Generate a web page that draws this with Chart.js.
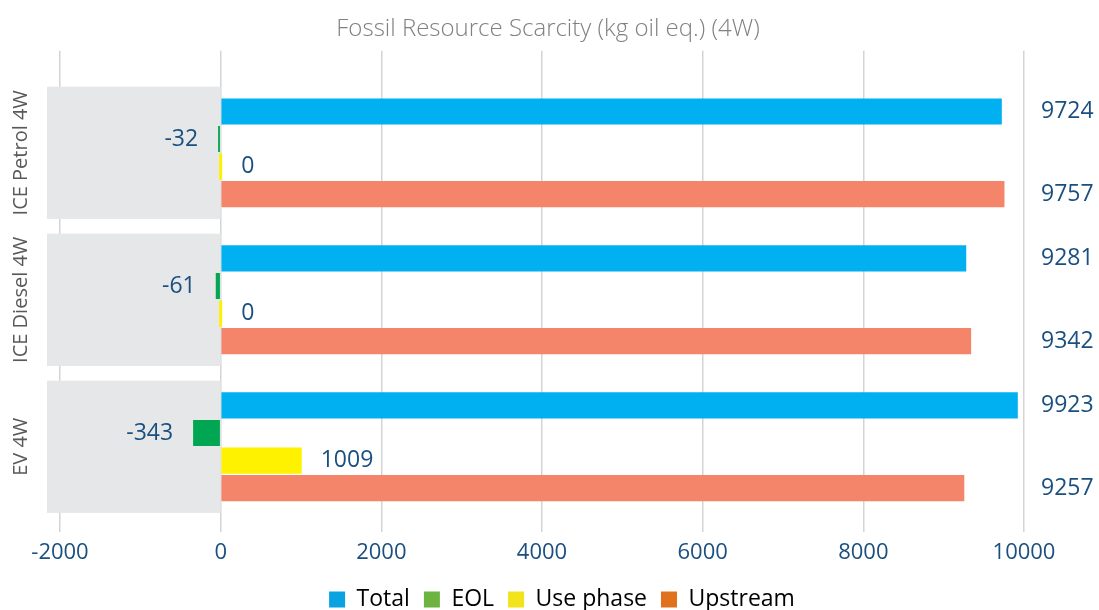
<!DOCTYPE html>
<html lang="en">
<head>
  <meta charset="UTF-8" />
  <title>Fossil Resource Scarcity (4W)</title>
  <script src="https://cdn.jsdelivr.net/npm/chart.js"></script>
  <style>
    body { margin: 0; background: #fff; }
    canvas { display: block; }
  </style>
</head>
<body>
  <canvas id="grafico" width="1099" height="610"></canvas>

  <script>
    // dados
    const categorias = ["ICE Petrol 4W", "ICE Diesel 4W", "EV 4W"];
    const total = [9724, 9281, 9923];
    const eol = [-32, -61, -343];
    const usePhase = [0, 0, 1009];
    const upstream = [9757, 9342, 9257];
    const xTicks = [-2000, 0, 2000, 4000, 6000, 8000, 10000];

    const nomes = ["Total", "EOL", "Use phase", "Upstream"];
    const coresBarra = ["#00B0F0", "#00A651", "#FFF200", "#F4846A"];
    const coresLegenda = ["#0AA3E2", "#6DB33F", "#F2E31B", "#E0721E"];
    const azul = "#1A4F7F";
    const fonte = "'Open Sans', sans-serif";

    const series = [total, eol, usePhase, upstream];

    // caixas cinza + rótulos das categorias
    const fundoCategorias = {
      id: "fundoCategorias",
      afterLayout(chart) {
        // título e legenda ficam centrados na figura, não na área do gráfico
        chart.titleBlock.left += 6; chart.titleBlock.right += 6;
        chart.legend.left += 20; chart.legend.right += 20;
      },
      beforeDatasetsDraw(chart) {
        const { ctx, scales: { x, y } } = chart;
        const passo = Math.abs(y.getPixelForValue(1) - y.getPixelForValue(0));
        ctx.save();
        ctx.fillStyle = "#E6E7E8";
        categorias.forEach((c, i) => {
          const yc = y.getPixelForValue(i);
          ctx.fillRect(47, yc - passo * 0.45, x.getPixelForValue(0) - 47, passo * 0.9);
        });
        ctx.restore();
      },
      afterDraw(chart) {
        const { ctx, scales: { y } } = chart;
        ctx.save();
        ctx.fillStyle = "#595959";
        ctx.font = "20px " + fonte;
        ctx.textAlign = "center";
        ctx.textBaseline = "middle";
        categorias.forEach((c, i) => {
          ctx.save();
          ctx.translate(21, y.getPixelForValue(i));
          ctx.rotate(-Math.PI / 2);
          ctx.fillText(c, 0, 0);
          ctx.restore();
        });
        ctx.restore();
      }
    };

    // rótulos de valor
    const rotulos = {
      id: "rotulos",
      afterDatasetsDraw(chart) {
        const { ctx, chartArea } = chart;
        ctx.save();
        ctx.fillStyle = azul;
        ctx.font = "23px " + fonte;
        ctx.textBaseline = "middle";
        chart.data.datasets.forEach((ds, d) => {
          chart.getDatasetMeta(d).data.forEach((el, i) => {
            const v = series[d][i];
            if (d === 0 || d === 3) {
              ctx.textAlign = "left";
              ctx.fillText(v, chartArea.right + 17, el.y);
            } else if (d === 1) {
              ctx.textAlign = "right";
              ctx.fillText(v, Math.min(el.x, el.base) - 20, el.y);
            } else {
              ctx.textAlign = "left";
              ctx.fillText(v, Math.max(el.x, el.base) + 19, el.y);
            }
          });
        });
        ctx.restore();
      }
    };

    new Chart(document.getElementById("grafico"), {
      type: "bar",
      data: {
        datasets: series.map((s, d) => ({
          label: nomes[d],
          data: s.map((v, i) => ({ x: v, y: i })),
          backgroundColor: coresBarra[d],
          minBarLength: d === 2 ? 3 : 0,
          categoryPercentage: 0.75,
          barPercentage: 0.95
        }))
      },
      options: {
        indexAxis: "y",
        responsive: false,
        animation: false,
        layout: { padding: { left: 60, right: 75, top: 0, bottom: -11 } },
        scales: {
          x: {
            type: "linear",
            min: -2000,
            max: 10000,
            afterBuildTicks: s => { s.ticks = xTicks.map(v => ({ value: v })); },
            ticks: {
              color: azul,
              font: { family: fonte, size: 22 },
              padding: 8,
              callback: v => String(v)
            },
            grid: { color: "#D4D4D4", lineWidth: 1.5, drawTicks: false },
            border: { display: false }
          },
          y: {
            type: "linear",
            reverse: true,
            offset: false,
            min: -0.694,
            max: 2.577,
            display: false,
            grid: { offset: false },
            afterBuildTicks: s => { s.ticks = categorias.map((c, i) => ({ value: i })); }
          }
        },
        plugins: {
          title: {
            display: true,
            text: "Fossil Resource Scarcity (kg oil eq.) (4W)",
            color: "#808080",
            font: { family: fonte, size: 24, weight: 300 },
            padding: { top: 15, bottom: 7 }
          },
          legend: {
            position: "bottom",
            labels: {
              color: azul,
              font: { family: fonte, size: 23 },
              boxWidth: 16,
              boxHeight: 16,
              padding: 14,
              generateLabels: chart => nomes.map((n, i) => ({
                text: n,
                fillStyle: coresLegenda[i],
                strokeStyle: coresLegenda[i],
                lineWidth: 0,
                datasetIndex: i
              }))
            }
          },
          tooltip: { enabled: false }
        }
      },
      plugins: [fundoCategorias, rotulos]
    });
  </script>
</body>
</html>
